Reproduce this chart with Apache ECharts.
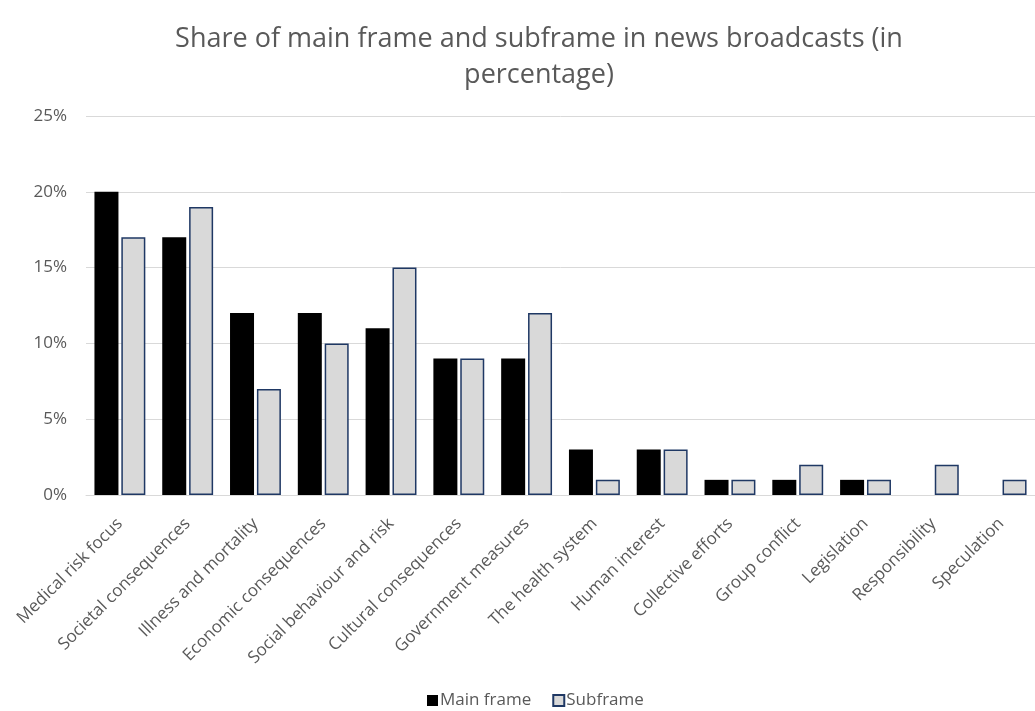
<!DOCTYPE html>
<html>
<head>
<meta charset="utf-8">
<script src="https://cdn.jsdelivr.net/npm/echarts@6/dist/echarts.min.js"></script>
<style>
  html, body { margin: 0; padding: 0; background: #fff; }
  #chart { width: 1035px; height: 711px; }
</style>
</head>
<body>
<div id="chart"></div>
<script>
// Frames coded in news broadcasts
const categories = [
  'Medical risk focus', 'Societal consequences', 'Illness and mortality',
  'Economic consequences', 'Social behaviour and risk', 'Cultural consequences',
  'Government measures', 'The health system', 'Human interest',
  'Collective efforts', 'Group conflict', 'Legislation', 'Responsibility', 'Speculation'
];
// Share (%) as main frame; null where the frame never appears as main frame
const mainFrame = [20, 17, 12, 12, 11, 9, 9, 3, 3, 1, 1, 1, null, null];
// Share (%) as subframe
const subFrame = [17, 19, 7, 10, 15, 9, 12, 1, 3, 1, 2, 1, 2, 1];
const yTicks = { min: 0, max: 25, interval: 5 };

const FONT = '"Open Sans", sans-serif';
const GREY_TEXT = '#595959';
const chart = echarts.init(document.getElementById('chart'), null, { renderer: 'canvas' });
chart.setOption({
  animation: false,
  backgroundColor: '#ffffff',
  title: {
    text: 'Share of main frame and subframe in news broadcasts (in\npercentage)',
    left: 534,
    top: 16,
    textAlign: 'center',
    textStyle: { fontFamily: FONT, fontSize: 27, fontWeight: 'normal', color: GREY_TEXT, lineHeight: 36 }
  },
  legend: {
    top: 687,
    left: 422,
    icon: 'rect',
    itemWidth: 11,
    itemHeight: 11,
    itemGap: 21,
    textStyle: { fontFamily: FONT, fontSize: 17, color: GREY_TEXT, padding: [0, 0, 0, -3] },
    data: ['Main frame', 'Subframe']
  },
  grid: { left: 86, right: -12, top: 116, bottom: 216 },
  xAxis: {
    type: 'category',
    data: categories,
    axisTick: { show: false },
    axisLine: { lineStyle: { color: '#d9d9d9', width: 1 } },
    axisLabel: { rotate: 45, interval: 0, fontFamily: FONT, fontSize: 17, color: GREY_TEXT, margin: 26 }
  },
  yAxis: {
    type: 'value',
    min: yTicks.min,
    max: yTicks.max,
    interval: yTicks.interval,
    axisLabel: { formatter: '{value}%', fontFamily: FONT, fontSize: 17, color: GREY_TEXT, margin: 19 },
    axisLine: { show: false },
    axisTick: { show: false },
    splitLine: { lineStyle: { color: '#d9d9d9', width: 1 } }
  },
  series: [
    {
      name: 'Main frame',
      type: 'bar',
      data: mainFrame,
      barWidth: 24,
      barGap: '12%',
      itemStyle: { color: '#000000' }
    },
    {
      name: 'Subframe',
      type: 'bar',
      data: subFrame,
      barWidth: 24,
      itemStyle: { color: '#d9d9d9', borderColor: '#1f3864', borderWidth: 1.5 }
    }
  ]
});
</script>
</body>
</html>
